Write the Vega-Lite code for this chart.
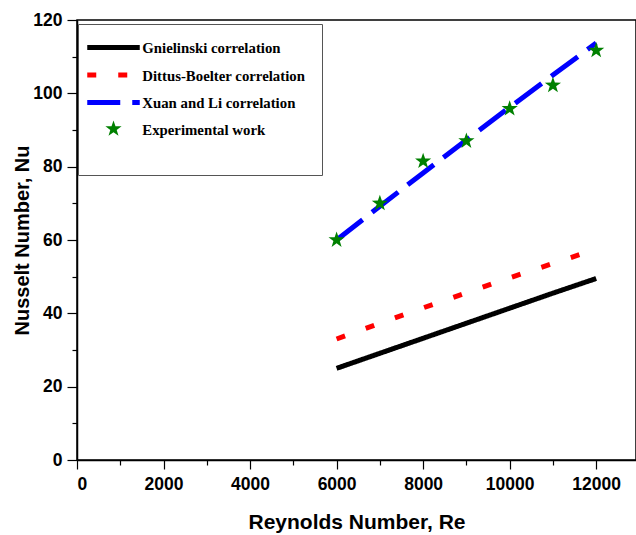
{
  "$schema": "https://vega.github.io/schema/vega-lite/v6.json",
  "width": 559,
  "height": 440,
  "autosize": {"type": "none"},
  "padding": {"left": 77, "top": 20, "right": 0, "bottom": 75},
  "background": "white",
  "config": {
    "view": {"stroke": "black", "strokeWidth": 1.5},
    "axis": {
      "domainColor": "black",
      "domainWidth": 1.5,
      "tickColor": "black",
      "tickWidth": 1.2,
      "grid": false,
      "labelFont": "Liberation Sans",
      "labelFontWeight": "bold",
      "labelFontSize": 17.5,
      "labelColor": "black",
      "titleFont": "Liberation Sans",
      "titleFontWeight": "bold",
      "titleColor": "black"
    },
    "legend": {
      "orient": "none",
      "legendX": 1,
      "legendY": 4,
      "strokeColor": "#555555",
      "fillColor": "white",
      "padding": 16,
      "rowPadding": 6.5,
      "symbolSize": 441,
      "symbolStrokeWidth": 5,
      "symbolOffset": 12.1,
      "labelOffset": 21.4,
      "labelFont": "Liberation Serif",
      "labelFontWeight": "bold",
      "labelFontSize": 14.8,
      "labelColor": "black",
      "labelLimit": 300,
      "titleOrient": "bottom",
      "titleFont": "Liberation Sans",
      "titleFontSize": 13,
      "titlePadding": 8
    }
  },
  "datasets": {
    "correlations": [
      {"series": "Gnielinski correlation", "Re": 6000, "Nu": 25.0},
      {"series": "Gnielinski correlation", "Re": 7000, "Nu": 29.1},
      {"series": "Gnielinski correlation", "Re": 8000, "Nu": 33.2},
      {"series": "Gnielinski correlation", "Re": 9000, "Nu": 37.3},
      {"series": "Gnielinski correlation", "Re": 10000, "Nu": 41.4},
      {"series": "Gnielinski correlation", "Re": 11000, "Nu": 45.5},
      {"series": "Gnielinski correlation", "Re": 12000, "Nu": 49.5},
      {"series": "Dittus-Boelter correlation", "Re": 6000, "Nu": 33.0},
      {"series": "Dittus-Boelter correlation", "Re": 7000, "Nu": 37.3},
      {"series": "Dittus-Boelter correlation", "Re": 8000, "Nu": 41.5},
      {"series": "Dittus-Boelter correlation", "Re": 9000, "Nu": 45.6},
      {"series": "Dittus-Boelter correlation", "Re": 10000, "Nu": 49.7},
      {"series": "Dittus-Boelter correlation", "Re": 11000, "Nu": 53.6},
      {"series": "Dittus-Boelter correlation", "Re": 12000, "Nu": 57.5},
      {"series": "Xuan and Li correlation", "Re": 6000, "Nu": 60.0},
      {"series": "Xuan and Li correlation", "Re": 7000, "Nu": 69.2},
      {"series": "Xuan and Li correlation", "Re": 8000, "Nu": 78.3},
      {"series": "Xuan and Li correlation", "Re": 9000, "Nu": 87.3},
      {"series": "Xuan and Li correlation", "Re": 10000, "Nu": 96.2},
      {"series": "Xuan and Li correlation", "Re": 11000, "Nu": 105.0},
      {"series": "Xuan and Li correlation", "Re": 12000, "Nu": 113.7}
    ],
    "experiment": [
      {"series": "Experimental work", "Re": 6000, "Nu": 60.0},
      {"series": "Experimental work", "Re": 7000, "Nu": 70.0},
      {"series": "Experimental work", "Re": 8000, "Nu": 81.5},
      {"series": "Experimental work", "Re": 9000, "Nu": 87.0},
      {"series": "Experimental work", "Re": 10000, "Nu": 95.8},
      {"series": "Experimental work", "Re": 11000, "Nu": 102.2},
      {"series": "Experimental work", "Re": 12000, "Nu": 111.7}
    ]
  },
  "encoding": {
    "x": {
      "field": "Re",
      "type": "quantitative",
      "scale": {"domain": [0, 12920], "nice": false},
      "axis": {
        "title": "Reynolds Number, Re",
        "titleFontSize": 21,
        "values": [0, 1000, 2000, 3000, 4000, 5000, 6000, 7000, 8000, 9000, 10000, 11000, 12000],
        "format": "d",
        "labelExpr": "datum.value % 2000 === 0 ? datum.label : ''",
        "tickSize": {"condition": {"test": "datum.value % 2000 === 0", "value": 9}, "value": 5},
        "labelPadding": 6,
        "titlePadding": 19
      }
    },
    "y": {
      "field": "Nu",
      "type": "quantitative",
      "scale": {"domain": [0, 120], "nice": false},
      "axis": {
        "title": "Nusselt Number, Nu",
        "titleFontSize": 20,
        "values": [0, 10, 20, 30, 40, 50, 60, 70, 80, 90, 100, 110, 120],
        "labelExpr": "datum.value % 20 === 0 ? datum.label : ''",
        "tickSize": {"condition": {"test": "datum.value % 20 === 0", "value": 10}, "value": 5},
        "labelPadding": 5,
        "titlePadding": 0
      }
    },
    "color": {
      "field": "series",
      "type": "nominal",
      "legend": {
        "title": " ",
        "encode": {
          "symbols": {
            "update": {"strokeWidth": {"signal": "datum.value === 'Experimental work' ? 0 : 5"}}
          },
          "labels": {
            "update": {"dy": {"value": 2}}
          }
        }
      },
      "scale": {
        "domain": ["Gnielinski correlation", "Dittus-Boelter correlation", "Xuan and Li correlation", "Experimental work"],
        "range": ["#000000", "#ff0000", "#0000ff", "#008000"]
      }
    }
  },
  "layer": [
    {
      "data": {"name": "correlations"},
      "mark": {"type": "line", "strokeWidth": 5, "strokeCap": "butt"},
      "encoding": {
        "strokeDash": {
          "field": "series",
          "type": "nominal",
          "legend": {"title": " "},
          "scale": {
            "domain": ["Gnielinski correlation", "Dittus-Boelter correlation", "Xuan and Li correlation", "Experimental work"],
            "range": [[1, 0], [9, 22], [33, 12], [1, 0]]
          }
        }
      }
    },
    {
      "data": {"name": "experiment"},
      "mark": {"type": "point", "filled": true, "opacity": 1, "size": 441},
      "encoding": {
        "shape": {
          "field": "series",
          "type": "nominal",
          "legend": {
            "title": " ",
            "encode": {
              "symbols": {
                "update": {"strokeWidth": {"signal": "datum.value === 'Experimental work' ? 0 : 5"}}
              },
              "labels": {
                "update": {"dy": {"value": 2}}
              }
            }
          },
          "scale": {
            "domain": ["Gnielinski correlation", "Dittus-Boelter correlation", "Xuan and Li correlation", "Experimental work"],
            "range": ["M-2.5,0H2.5", "M-2.5,0H2.5", "M-2.5,0H2.5", "M0,-0.81L0.1881,-0.2589L0.7704,-0.2503L0.3043,0.0989L0.4761,0.6553L0,0.32L-0.4761,0.6553L-0.3043,0.0989L-0.7704,-0.2503L-0.1881,-0.2589Z"]
          }
        }
      }
    }
  ]
}
